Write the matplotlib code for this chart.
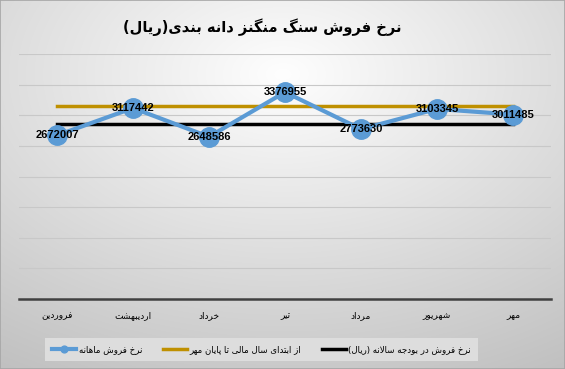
import numpy as np
import matplotlib
matplotlib.use("Agg")
import matplotlib.pyplot as plt
from matplotlib.patches import Rectangle

# Presentation forms: isolated, final, initial, medial
FORMS = {
    "ا": ("\uFE8D", "\uFE8E", None, None),
    "ب": ("\uFE8F", "\uFE90", "\uFE91", "\uFE92"),
    "پ": ("\uFB56", "\uFB57", "\uFB58", "\uFB59"),
    "ت": ("\uFE95", "\uFE96", "\uFE97", "\uFE98"),
    "ج": ("\uFE9D", "\uFE9E", "\uFE9F", "\uFEA0"),
    "خ": ("\uFEA5", "\uFEA6", "\uFEA7", "\uFEA8"),
    "د": ("\uFEA9", "\uFEAA", None, None),
    "ر": ("\uFEAD", "\uFEAE", None, None),
    "ز": ("\uFEAF", "\uFEB0", None, None),
    "س": ("\uFEB1", "\uFEB2", "\uFEB3", "\uFEB4"),
    "ش": ("\uFEB5", "\uFEB6", "\uFEB7", "\uFEB8"),
    "ف": ("\uFED1", "\uFED2", "\uFED3", "\uFED4"),
    "گ": ("\uFB92", "\uFB93", "\uFB94", "\uFB95"),
    "ل": ("\uFEDD", "\uFEDE", "\uFEDF", "\uFEE0"),
    "م": ("\uFEE1", "\uFEE2", "\uFEE3", "\uFEE4"),
    "ن": ("\uFEE5", "\uFEE6", "\uFEE7", "\uFEE8"),
    "و": ("\uFEED", "\uFEEE", None, None),
    "ه": ("\uFEE9", "\uFEEA", "\uFEEB", "\uFEEC"),
    "ی": ("\uFBFC", "\uFBFD", "\uFBFE", "\uFBFF"),
}
MIRROR = {"(": ")", ")": "("}


def fa(text):
    # shape letters and reverse for left-to-right drawing
    out = []
    i = 0
    n = len(text)
    while i < n:
        ch = text[i]
        if ch not in FORMS:
            out.append(MIRROR.get(ch, ch))
            i += 1
            continue
        prev = text[i - 1] if i > 0 else ""
        joins_prev = prev in FORMS and FORMS[prev][2] is not None
        nxt = text[i + 1] if i + 1 < n else ""
        if ch == "ل" and nxt == "ا":
            out.append("\uFEFC" if joins_prev else "\uFEFB")
            i += 2
            continue
        joins_next = FORMS[ch][2] is not None and nxt in FORMS
        iso, fin, ini, med = FORMS[ch]
        if joins_prev and joins_next:
            out.append(med)
        elif joins_prev:
            out.append(fin)
        elif joins_next:
            out.append(ini)
        else:
            out.append(iso)
        i += 1
    return "".join(reversed(out))


title = "نرخ فروش سنگ منگنز دانه بندی(ریال)"
months = ["فروردین", "اردیبهشت", "خرداد", "تیر", "مرداد", "شهریور", "مهر"]
monthly = [2672007, 3117442, 2648586, 3376955, 2773630, 3103345, 3011485]
ytd = [3155000] * 7
budget = [2860000] * 7
series_names = ["نرخ فروش ماهانه", "از ابتدای سال مالی تا پایان مهر",
                "نرخ فروش در بودجه سالانه (ریال)"]

fig = plt.figure(figsize=(5.65, 3.69), dpi=100)

# background gradient
bg = fig.add_axes([0, 0, 1, 1], zorder=-10)
H, W = 369, 565
yy, xx = np.mgrid[0:H, 0:W]
r = np.sqrt(((xx - W * 0.5) / W) ** 2 + ((yy - H * 0.2) / H) ** 2)
val = np.clip(254 - 66 * r, 190, 255) / 255.0
bg.imshow(np.dstack([val, val, val]), aspect="auto", extent=[0, 1, 0, 1])
bg.set_xlim(0, 1)
bg.set_ylim(0, 1)
bg.axis("off")
fig.patches.append(Rectangle((0, 0), 1, 1, transform=fig.transFigure,
                             fill=False, edgecolor="#a6a6a6", linewidth=1.2))

ax = fig.add_axes([19 / 565, 1 - 299 / 369, 532 / 565, 245 / 369])
ax.set_facecolor("none")
x = np.arange(len(months))

ax.plot(x, monthly, color="#5B9BD5", linewidth=3, marker="o", markersize=14,
        label=fa(series_names[0]), zorder=3)
ax.plot(x, ytd, color="#BF9000", linewidth=2.5, label=fa(series_names[1]), zorder=2)
ax.plot(x, budget, color="black", linewidth=2.5, label=fa(series_names[2]), zorder=2)

for xi, v in zip(x, monthly):
    ax.text(xi, v, str(v), ha="center", va="center", fontsize=8,
            fontweight="bold", family="Liberation Sans", zorder=5)

ax.set_xlim(-0.5, 6.5)
ax.set_ylim(0, 4000000)
ax.set_yticks(np.arange(500000, 4000001, 500000))
ax.yaxis.grid(True, color="#c8c8c8", linewidth=0.8)
ax.set_yticklabels([])
ax.tick_params(axis="y", length=0)
ax.set_xticks(x)
ax.set_xticklabels([fa(m) for m in months], fontsize=6.5)
ax.tick_params(axis="x", length=0, pad=9)
for s in ["top", "right", "left"]:
    ax.spines[s].set_visible(False)
ax.spines["bottom"].set_color("#404040")
ax.spines["bottom"].set_linewidth(1.8)
ax.set_axisbelow(True)

fig.text(262 / 565, 1 - 27 / 369, fa(title), ha="center", va="center",
         fontsize=10.5, fontweight="bold")

leg = ax.legend(loc="center", bbox_to_anchor=(0.463, 0.053),
                bbox_transform=fig.transFigure, ncol=3, fontsize=6.2,
                markerscale=0.35, handlelength=2.8, handletextpad=0.3,
                columnspacing=2.4, fancybox=False, framealpha=1, borderpad=0.8)
leg.get_frame().set_facecolor("#dddddd")
leg.get_frame().set_edgecolor("none")

fig.savefig("out.png", dpi=100)
